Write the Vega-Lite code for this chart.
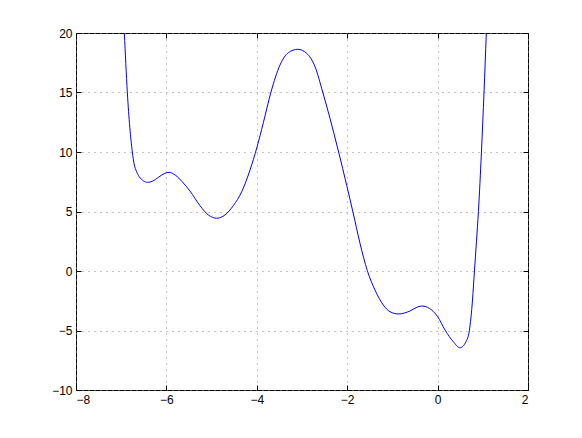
{
  "$schema": "https://vega.github.io/schema/vega-lite/v6.json",
  "width": 452,
  "height": 357,
  "autosize": {"type": "none"},
  "padding": {"left": 76, "top": 33, "right": 54, "bottom": 48},
  "background": "white",
  "config": {
    "view": {"stroke": "#000", "strokeWidth": 1},
    "axis": {
      "labelFont": "Liberation Sans",
      "labelFontSize": 12,
      "labelColor": "#000",
      "domain": false,
      "tickColor": "#000",
      "tickSize": -5,
      "tickWidth": 1,
      "labelPadding": 9,
      "gridColor": "#888",
      "gridDash": [1, 5],
      "gridWidth": 1,
      "title": null
    }
  },
  "data": {
    "values": [
      {"x": -6.975, "y": 23.3},
      {"x": -6.931, "y": 20.0},
      {"x": -6.865, "y": 15.04},
      {"x": -6.754, "y": 10.0},
      {"x": -6.717, "y": 9.05},
      {"x": -6.66, "y": 8.35},
      {"x": -6.6, "y": 7.92},
      {"x": -6.51, "y": 7.58},
      {"x": -6.414, "y": 7.45},
      {"x": -6.3, "y": 7.56},
      {"x": -6.18, "y": 7.86},
      {"x": -6.05, "y": 8.18},
      {"x": -5.942, "y": 8.29},
      {"x": -5.8, "y": 8.05},
      {"x": -5.65, "y": 7.5},
      {"x": -5.478, "y": 6.72},
      {"x": -5.257, "y": 5.49},
      {"x": -5.073, "y": 4.71},
      {"x": -4.887, "y": 4.43},
      {"x": -4.704, "y": 4.71},
      {"x": -4.52, "y": 5.49},
      {"x": -4.334, "y": 6.66},
      {"x": -4.15, "y": 8.49},
      {"x": -4.0, "y": 10.35},
      {"x": -3.856, "y": 12.45},
      {"x": -3.686, "y": 15.04},
      {"x": -3.487, "y": 17.31},
      {"x": -3.303, "y": 18.34},
      {"x": -3.095, "y": 18.63},
      {"x": -2.896, "y": 18.29},
      {"x": -2.712, "y": 17.17},
      {"x": -2.542, "y": 15.04},
      {"x": -2.381, "y": 12.83},
      {"x": -2.19, "y": 10.0},
      {"x": -2.011, "y": 7.2},
      {"x": -1.878, "y": 5.04},
      {"x": -1.717, "y": 2.33},
      {"x": -1.555, "y": 0.03},
      {"x": -1.385, "y": -1.6},
      {"x": -1.201, "y": -2.86},
      {"x": -1.053, "y": -3.42},
      {"x": -0.869, "y": -3.61},
      {"x": -0.611, "y": -3.36},
      {"x": -0.45, "y": -3.03},
      {"x": -0.33, "y": -2.94},
      {"x": -0.22, "y": -3.06},
      {"x": -0.131, "y": -3.28},
      {"x": 0.002, "y": -3.84},
      {"x": 0.164, "y": -4.96},
      {"x": 0.347, "y": -5.94},
      {"x": 0.496, "y": -6.45},
      {"x": 0.628, "y": -5.94},
      {"x": 0.702, "y": -5.02},
      {"x": 0.772, "y": -2.44},
      {"x": 0.815, "y": 0.0},
      {"x": 0.86, "y": 2.5},
      {"x": 0.903, "y": 5.0},
      {"x": 0.970, "y": 10.0},
      {"x": 1.027, "y": 15.04},
      {"x": 1.078, "y": 20.0},
      {"x": 1.11, "y": 23.3}
    ]
  },
  "layer": [
    {
      "mark": {"type": "line", "color": "#0000ff", "strokeWidth": 1, "clip": true, "interpolate": "monotone"},
      "encoding": {
        "x": {"field": "x", "type": "quantitative", "scale": {"domain": [-8, 2], "nice": false, "zero": false},
              "axis": {"orient": "bottom", "values": [-8, -6, -4, -2, 0, 2], "grid": true}},
        "y": {"field": "y", "type": "quantitative", "scale": {"domain": [-10, 20], "nice": false, "zero": false},
              "axis": {"orient": "left", "values": [-10, -5, 0, 5, 10, 15, 20], "grid": true}}
      }
    },
    {
      "mark": {"type": "line", "strokeOpacity": 0, "clip": true},
      "encoding": {
        "x": {"field": "x", "type": "quantitative", "scale": {"domain": [-8, 2], "nice": false, "zero": false},
              "axis": {"orient": "top", "values": [-8, -6, -4, -2, 0, 2], "grid": false, "labels": false}},
        "y": {"field": "y", "type": "quantitative", "scale": {"domain": [-10, 20], "nice": false, "zero": false},
              "axis": {"orient": "right", "values": [-10, -5, 0, 5, 10, 15, 20], "grid": false, "labels": false}}
      }
    }
  ],
  "resolve": {"axis": {"x": "independent", "y": "independent"}}
}
